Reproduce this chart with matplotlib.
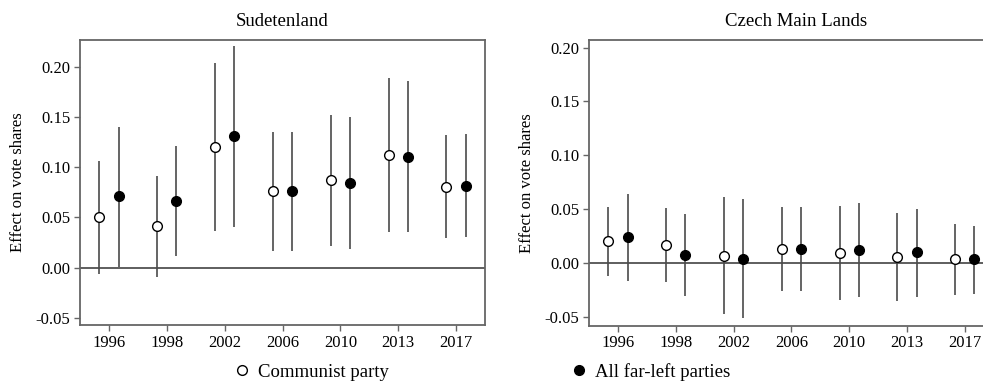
import matplotlib
matplotlib.use("Agg")
import matplotlib.pyplot as plt
from matplotlib.lines import Line2D
import numpy as np

plt.rcParams['font.family'] = ['Liberation Serif', 'DejaVu Serif']
plt.rcParams['axes.unicode_minus'] = False

years = ["1996", "1998", "2002", "2006", "2010", "2013", "2017"]

# Sudetenland
sud_comm = [0.0505, 0.041, 0.120, 0.076, 0.087, 0.112, 0.080]
sud_comm_lo = [-0.006, -0.009, 0.0365, 0.0166, 0.022, 0.035, 0.029]
sud_comm_hi = [0.1064, 0.091, 0.204, 0.135, 0.152, 0.189, 0.132]
sud_left = [0.071, 0.066, 0.131, 0.076, 0.0845, 0.110, 0.0815]
sud_left_lo = [0.0006, 0.012, 0.0405, 0.0166, 0.019, 0.035, 0.030]
sud_left_hi = [0.140, 0.121, 0.221, 0.135, 0.150, 0.186, 0.133]

# Czech Main Lands
cz_comm = [0.0202, 0.017, 0.0065, 0.013, 0.0093, 0.0056, 0.0031]
cz_comm_lo = [-0.012, -0.018, -0.0477, -0.026, -0.0344, -0.0356, -0.0297]
cz_comm_hi = [0.0515, 0.051, 0.061, 0.052, 0.053, 0.0465, 0.036]
cz_left = [0.0236, 0.0072, 0.0037, 0.013, 0.0115, 0.0097, 0.0031]
cz_left_lo = [-0.0173, -0.031, -0.0517, -0.026, -0.0319, -0.0313, -0.0288]
cz_left_hi = [0.064, 0.0455, 0.059, 0.052, 0.0555, 0.050, 0.0344]

yticks = [-0.05, 0.00, 0.05, 0.10, 0.15, 0.20]

W, H = 983, 382
fig = plt.figure(figsize=(W / 100, H / 100), dpi=100)

def px_axes(x0, x1, ytop, ybot):
    return fig.add_axes([x0 / W, (H - ybot) / H, (x1 - x0) / W, (ybot - ytop) / H])

ax1 = px_axes(80, 485, 40, 325)
ax2 = px_axes(589, 993.7, 40, 325.7)

line_col = '#4a4a4a'
spine_col = '#666666'
off = 0.166

def draw(ax, title, comm, clo, chi, left, llo, lhi, ylim, title_x=0.5):
    x = np.arange(len(years))
    for xs, v, lo, hi, fc in [(x - off, comm, clo, chi, 'white'), (x + off, left, llo, lhi, 'black')]:
        v = np.array(v); lo = np.array(lo); hi = np.array(hi)
        ax.vlines(xs, lo, hi, color=line_col, lw=1.2, zorder=2)
        ax.plot(xs, v, 'o', ms=7, mfc=fc, mec='black', mew=1.0, ls='none', zorder=3)
    ax.axhline(0, color='#333333', lw=1.1, zorder=1)
    ax.set_xlim(-0.5, 6.5)
    ax.set_ylim(*ylim)
    ax.set_xticks(x)
    ax.set_xticklabels(years)
    ax.set_yticks(yticks)
    ax.set_yticklabels([f"{t:.2f}" for t in yticks])
    ax.tick_params(labelsize=12, length=4, width=1, color=spine_col, pad=3)
    for s in ax.spines.values():
        s.set_color(spine_col)
        s.set_linewidth(1.3)
    ax.set_title(title, fontsize=13.5, pad=10, x=title_x)
    ax.set_ylabel("Effect on vote shares", fontsize=12)
    ax.yaxis.set_label_coords(-0.133, 0.5)

draw(ax1, "Sudetenland", sud_comm, sud_comm_lo, sud_comm_hi,
     sud_left, sud_left_lo, sud_left_hi, (-0.0573, 0.227))
draw(ax2, "Czech Main Lands", cz_comm, cz_comm_lo, cz_comm_hi,
     cz_left, cz_left_lo, cz_left_hi, (-0.0584, 0.207), title_x=0.512)

handles = [Line2D([], [], marker='o', ls='none', ms=7, mfc='white', mec='black', mew=1.0),
           Line2D([], [], marker='o', ls='none', ms=7, mfc='black', mec='black', mew=1.0)]
fig.legend(handles, ["Communist party", "All far-left parties"], ncol=2, loc='center',
           bbox_to_anchor=(0.491, 0.026), frameon=False, fontsize=13.5,
           handlelength=0.8, handletextpad=0.45, columnspacing=9.75, borderpad=0)

fig.savefig("out.png", dpi=100)
